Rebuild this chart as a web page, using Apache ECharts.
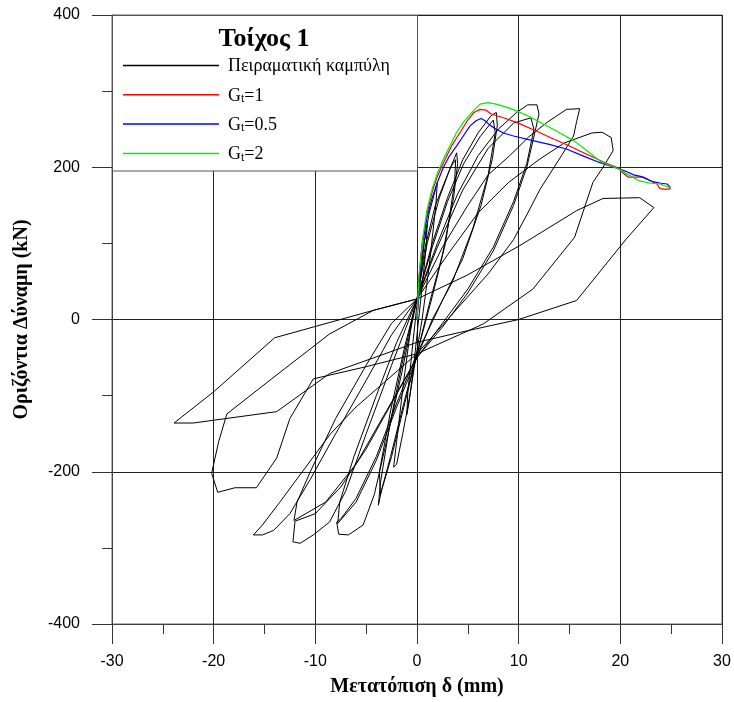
<!DOCTYPE html>
<html>
<head>
<meta charset="utf-8">
<script src="https://cdn.jsdelivr.net/npm/echarts@6/dist/echarts.min.js"></script>
<style>
html,body{margin:0;padding:0;background:#fff;}
#c{width:734px;height:702px;}
</style>
</head>
<body>
<div id="c"></div>
<script>
// ---- data (displacement mm, force kN) ----
const seriesNames = ['Πειραματική καμπύλη', 'Gt=1', 'Gt=0.5', 'Gt=2'];
const legendTitle = 'Τοίχος 1';
const xTitle = 'Μετατόπιση δ (mm)';
const yTitle = 'Οριζόντια Δύναμη (kN)';

const cycle1 = [[0,0],[0.3,50],[0.7,100],[1,125],[0.9,95],[0.4,30],[0,-20],[-0.4,-70],[-0.8,-110],[-1,-125],[-0.9,-95],[-0.4,-30],[0,20]];
const cycle2 = [[0.5,85],[1.2,140],[1.8,170],[2,180],[1.85,150],[1.2,70],[0.5,0],[0,-40],[-0.7,-100],[-1.4,-150],[-2,-190],[-2.3,-194],[-2,-160],[-1.3,-80],[-0.5,0],[0,27]];
const cycle3 = [[0.8,95],[1.8,150],[3,190],[3.9,219],[4,205],[3.6,160],[2.5,85],[1.2,20],[0,-45],[-1.2,-110],[-2.5,-180],[-3.5,-225],[-3.8,-244],[-3.6,-215],[-2.7,-140],[-1.5,-60],[-0.5,0],[0,27]];
const cycle4 = [[1,100],[2.2,160],[3.3,200],[3.8,210],[3.7,180],[2.8,100],[1.5,30],[0,-45],[-1.3,-110],[-2.6,-180],[-3.6,-230],[-3.7,-200],[-2.6,-120],[-1.2,-35],[0,27]];
const cycle5 = [[1.5,100],[3,160],[4.5,210],[6,245],[7.3,268],[7.8,272],[7.9,255],[7.4,210],[6.3,150],[4.5,80],[2.5,25],[0,-45],[-2,-110],[-4,-180],[-6,-235],[-7.5,-262],[-7.9,-266],[-7.7,-282],[-6.75,-283],[-5.3,-270],[-4.2,-230],[-3,-160],[-1.5,-70],[0,27]];
const cycle6 = [[1.5,95],[3,155],[4.6,205],[6.2,240],[7.5,262],[7.7,245],[7,190],[5.5,120],[3.5,50],[1.5,0],[0,-50],[-2,-115],[-4,-185],[-6,-240],[-7.8,-268],[-7.6,-240],[-6.2,-180],[-4,-100],[-2,-30],[0,27]];
const cycle7 = [[2,100],[4,165],[6,215],[8,250],[9.8,272],[10.9,282],[11.8,282],[12,270],[11.6,246],[10.8,200],[9.5,150],[7.5,90],[5,35],[2.5,-10],[0,-50],[-2.5,-110],[-5,-170],[-7.5,-220],[-10,-255],[-12,-265],[-12.2,-292],[-11.5,-294],[-10.2,-283],[-8.6,-266],[-7,-225],[-5,-150],[-2.5,-60],[0,27]];
const cycle8 = [[2,95],[4.5,170],[7,225],[9.5,258],[11.2,265],[11.5,250],[10.8,205],[9.5,155],[7.5,95],[5,40],[2.5,-5],[0,-50],[-3,-120],[-6,-190],[-9,-240],[-12.1,-264],[-11.8,-240],[-10.5,-200],[-8,-130],[-5,-60],[-2.5,-5],[0,27]];
const cycle9 = [[2.5,95],[5,150],[7,190],[9.1,215],[11,240],[12.8,259],[14.7,276],[16,277],[15.7,260],[15.4,241],[14.2,215],[12.1,171],[10.9,140],[9.5,105],[7,60],[4,15],[0,-45],[-3,-80],[-6,-115],[-8.5,-150],[-11,-195],[-13.5,-240],[-15.2,-270],[-16.1,-283],[-15.2,-283],[-14.1,-277],[-12.5,-255],[-10.5,-210],[-8,-150],[-5,-80],[-2.5,-20],[0,27]];
const cycle10 = [[3,85],[6,140],[9,180],[12,210],[14.5,232],[17.2,245],[18.2,246],[19.1,239],[19.3,222],[18.3,200],[17.3,180],[15.5,108],[11.4,40],[6.5,-6],[0,-45],[-5,-62],[-10.2,-78],[-12.5,-130],[-13.8,-182],[-15.8,-221],[-17.9,-221],[-19.6,-227],[-20.2,-202],[-19.5,-160],[-18.7,-124],[-14.3,-78],[-8.6,-19],[-4.3,12],[0,27]];
const cycle11 = [[4.9,58],[10.1,97],[15.7,143],[18.3,159],[21.9,160],[23.3,147],[20.6,106],[15.7,25],[10,0],[4.2,-17],[0,-30],[-8.6,-71],[-13.8,-121],[-22,-136],[-23.9,-136],[-20,-95],[-14,-24],[-4.3,12],[0,27]];

const gt1 = [[0,0],[0.2,55],[0.5,100],[1,140],[1.5,168],[2,188],[2.6,206],[3.4,228],[4.2,245],[5,262],[5.6,272],[6.2,276],[6.8,275],[7.3,270],[8.5,265],[9.8,259],[11.5,249],[13.1,239],[15,228],[16.7,217],[18.5,206],[19.8,199],[20.3,192],[20.8,187],[21.5,187],[22.3,187],[23,182],[23.6,178],[23.9,172],[24.5,171],[24.95,172]];
const gt05 = [[0,0],[0.2,52],[0.5,95],[1,135],[1.5,160],[2,180],[2.6,200],[3.2,215],[3.9,228],[4.6,242],[5.2,254],[5.8,261],[6.3,264],[6.7,261],[7.2,255],[7.8,250],[8.5,245],[9.5,241],[11.4,235],[13,230],[14.7,224],[16.5,214],[18,206],[19.8,198],[20.5,195],[21.3,190],[22,188],[23.2,181],[24,179],[24.6,178],[24.95,173]];
const gt2 = [[0,0],[0.2,58],[0.6,110],[1,145],[1.5,172],[2,192],[2.6,211],[3.3,230],[3.9,246],[4.6,260],[5.4,272],[6.2,283],[7,285],[7.8,283],[8.8,279],[9.8,274],[11,267],[12.1,259],[13.8,247],[15.4,235],[16.8,221],[18,208],[19,202],[19.8,198],[20.8,190],[21.9,182],[23,179],[23.9,178],[24.5,175],[24.95,173]];

const experimental = [].concat(cycle1, cycle2, cycle3, cycle4, cycle5, cycle6, cycle7, cycle8, cycle9, cycle10, cycle11);

const chart = echarts.init(document.getElementById('c'), null, {renderer: 'canvas'});
const serif = 'Liberation Serif';
const sans = 'Liberation Sans';

const legendRich = {
  n: {fontFamily: serif, fontSize: 18, color: '#000', lineHeight: 20, verticalAlign: 'bottom'},
  s: {fontFamily: serif, fontSize: 12, color: '#000', lineHeight: 8, verticalAlign: 'bottom'}
};
function legendLabel(name) {
  if (name === seriesNames[0]) return '{n|' + name + '}';
  const rest = name.slice(2);
  return '{n|G}{s|t}{n|' + rest + '}';
}

const option = {
  animation: false,
  backgroundColor: '#fff',
  grid: {left: 112, right: 12, top: 15, bottom: 76, show: true, borderColor: '#666', borderWidth: 1, containLabel: false},
  xAxis: {
    type: 'value', min: -30, max: 30, interval: 10,
    name: xTitle, nameLocation: 'middle', nameGap: 53,
    nameTextStyle: {fontFamily: serif, fontWeight: 'bold', fontSize: 20, color: '#000'},
    axisLine: {show: true, onZero: false, lineStyle: {color: '#444', width: 1}},
    axisTick: {show: true, length: 20, lineStyle: {color: '#333'}},
    minorTick: {show: true, splitNumber: 2, length: 10, lineStyle: {color: '#333'}},
    axisLabel: {fontFamily: sans, fontSize: 16, color: '#000', margin: 30},
    splitLine: {show: true, lineStyle: {color: '#222', width: 1}}
  },
  yAxis: {
    type: 'value', min: -400, max: 400, interval: 200,
    name: yTitle, nameLocation: 'middle', nameGap: 80, nameRotate: 90,
    nameTextStyle: {fontFamily: serif, fontWeight: 'bold', fontSize: 20, color: '#000'},
    axisLine: {show: true, onZero: false, lineStyle: {color: '#444', width: 1}},
    axisTick: {show: true, length: 20, lineStyle: {color: '#333'}},
    minorTick: {show: true, splitNumber: 2, length: 10, lineStyle: {color: '#333'}},
    axisLabel: {fontFamily: sans, fontSize: 16, color: '#000', margin: 32},
    splitLine: {show: true, lineStyle: {color: '#222', width: 1}}
  },
  legend: {
    orient: 'vertical', left: 123, top: 57.5, padding: 0,
    icon: 'rect', itemWidth: 96, itemHeight: 1.5, itemGap: 11.3,
    selectedMode: false, z: 110,
    data: seriesNames,
    formatter: legendLabel,
    textStyle: {fontFamily: serif, fontSize: 18, color: '#000', padding: [0, 0, 0, 4], rich: legendRich}
  },
  graphic: [
    {type: 'rect', z: 100, shape: {x: 112.5, y: 15.5, width: 305, height: 155.5}, style: {fill: '#fff', stroke: '#555', lineWidth: 1}},
    {type: 'text', z: 110, x: 264, y: 39, style: {text: legendTitle, font: 'bold 26px "Liberation Serif"', fill: '#000', textAlign: 'center', textVerticalAlign: 'middle'}}
  ],
  series: [
    {name: seriesNames[0], type: 'line', data: experimental, symbol: 'none', showSymbol: false, lineStyle: {color: '#000', width: 1}, itemStyle: {color: '#000'}, z: 2},
    {name: seriesNames[1], type: 'line', data: gt1, symbol: 'none', showSymbol: false, lineStyle: {color: '#ff0000', width: 1.2}, itemStyle: {color: '#ff0000'}, z: 3},
    {name: seriesNames[2], type: 'line', data: gt05, symbol: 'none', showSymbol: false, lineStyle: {color: '#0000ff', width: 1.2}, itemStyle: {color: '#0000ff'}, z: 3},
    {name: seriesNames[3], type: 'line', data: gt2, symbol: 'none', showSymbol: false, lineStyle: {color: '#00ee00', width: 1.2}, itemStyle: {color: '#00ee00'}, z: 3}
  ]
};
chart.setOption(option);
</script>
</body>
</html>
